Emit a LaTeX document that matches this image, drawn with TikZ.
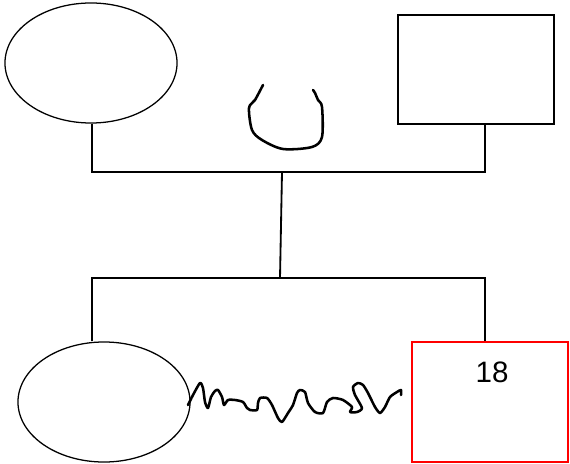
\documentclass[tikz,border=0pt]{standalone}
\usepackage{fontspec}
\setmainfont{Liberation Sans}
\usepackage{tikz}
\usetikzlibrary{shapes.geometric}
\tikzset{
    female/.style={draw, ellipse, minimum width=4.3cm, minimum height=3cm, inner sep=0pt, line width=0.9pt},
    male/.style={draw, rectangle, minimum width=3.9cm, minimum height=2.725cm, inner sep=0pt, line width=0.9pt},
    link/.style={line width=1.3pt},
    scribble/.style={line width=1.8pt, line join=round, line cap=round}
}
\begin{document}
\begin{tikzpicture}[x=0.025cm, y=-0.025cm]
\useasboundingbox (0,0) rectangle (570,464);
\node[female] (mother) at (91,63) {};
\node[male] (father) at (476,69.5) {};
\node[female] (daughter) at (104,402) {};
\node[male, draw=red, minimum height=3cm] (son) at (490,402) {};
\node[font=\fontsize{21}{25}\selectfont] (age) at (492,372) {18};
\coordinate (upL) at (92,172);
\coordinate (upM) at (282,172);
\coordinate (upR) at (485,172);
\coordinate (loL) at (92,278);
\coordinate (loM) at (280,278);
\coordinate (loR) at (485,278);
\draw[link] (upL |- mother.south) -- (upL) -- (upR) -- (upR |- father.south);
\draw[link] (upM) -- (loM);
\draw[link] (loL |- daughter.north) -- (loL) -- (loR) -- (loR |- son.north);
\draw[scribble] plot[smooth, tension=0.5] coordinates {(263,85) (255,100) (249,108) (252,130) (262,140) (283,149) (312,147) (322,137) (322,107) (318,100) (315,93) (313,90)};
\draw[scribble] plot[smooth, tension=0.4] coordinates {(188,405) (193,395) (200,383) (203,388) (205,402) (208,408) (211,397) (215,391) (218,390) (222,397) (224,405) (228,400) (235,400) (243,402) (247,408) (250,410) (257,410) (258,403) (260,398) (267,398) (272,405) (278,418) (282,422) (288,413) (293,405) (297,393) (300,390) (305,392) (308,403) (315,412) (323,413) (327,402) (333,398) (343,400) (352,407) (350,412) (357,412) (362,408) (355,395) (353,387) (358,383) (363,385) (368,393) (375,407) (380,413) (385,407) (390,397) (397,392) (401,390) (401,395)};
\end{tikzpicture}
\end{document}
